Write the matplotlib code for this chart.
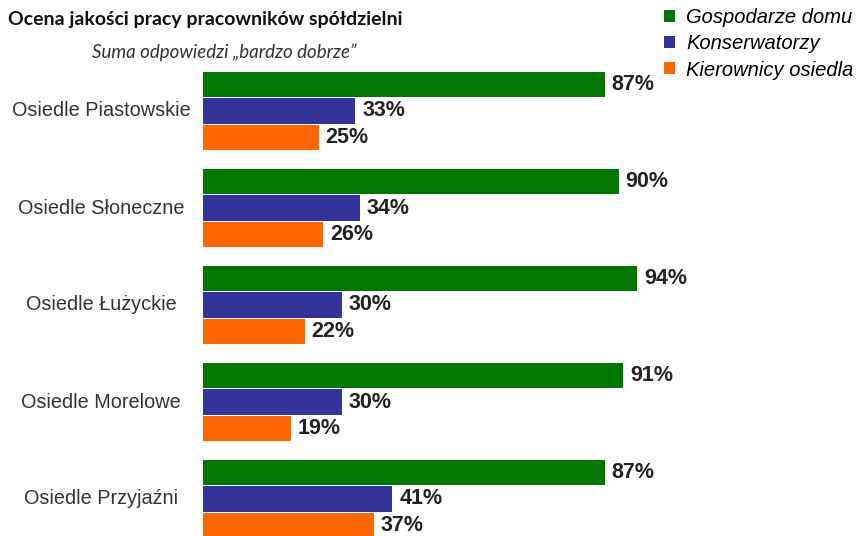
import matplotlib
matplotlib.use('Agg')
import matplotlib.pyplot as plt
from matplotlib.patches import Patch
import numpy as np

categories = ['Osiedle Piastowskie', 'Osiedle Słoneczne', 'Osiedle Łużyckie',
              'Osiedle Morelowe', 'Osiedle Przyjaźni']
series_names = ['Gospodarze domu', 'Konserwatorzy', 'Kierownicy osiedla']
gospodarze = [87, 90, 94, 91, 87]
konserwatorzy = [33, 34, 30, 30, 41]
kierownicy = [25, 26, 22, 19, 37]
colors = ['#007700', '#333399', '#FF6600']

title = 'Ocena jakości pracy pracowników spółdzielni'
subtitle = 'Suma odpowiedzi \u201ebardzo dobrze\u201d'

plt.rcParams['font.family'] = ['Liberation Sans', 'DejaVu Sans']

fig = plt.figure(figsize=(8.59, 5.36), dpi=100)
ax = fig.add_axes([203 / 859, 0, 462 / 859, 476 / 536])

y = np.arange(len(categories))
step = 26.5 / 97
height = 25.5 / 97
for i, (vals, col) in enumerate(zip([gospodarze, konserwatorzy, kierownicy], colors)):
    pos = y + (i - 1) * step
    ax.barh(pos, vals, height=height, color=col, edgecolor='none')
    for p, v in zip(pos, vals):
        ax.text(v + 1.5, p, f'{v}%', va='center', ha='left',
                fontsize=15.5, fontweight='bold', color='#222222')

ax.set_xlim(0, 100)
ax.set_ylim(4 + 37 / 97, -51 / 97)
ax.axis('off')

for c, yc in zip(categories, y):
    ax.text(-22.0, yc, c, ha='center', va='center', fontsize=14.3, color='#333333')

fig.text(8 / 859, 1 - 20 / 536, title, ha='left', va='center', fontsize=14,
         fontweight='bold', family=['Lato', 'DejaVu Sans'], color='#111111')
fig.text(224 / 859, 1 - 52 / 536, subtitle, ha='center', va='center', fontsize=13.5,
         style='italic', family=['Lato', 'DejaVu Sans'], color='#333333')

handles = [Patch(facecolor=c, edgecolor='none') for c in colors]
leg = fig.legend(handles, series_names, loc='upper left',
                 bbox_to_anchor=(656 / 859, 1 - 0 / 536), frameon=False,
                 handlelength=0.55, handleheight=0.55, handletextpad=0.55,
                 labelspacing=0.36, borderaxespad=0,
                 prop={'size': 14.5, 'style': 'italic'})

fig.savefig('out.png', dpi=100)
